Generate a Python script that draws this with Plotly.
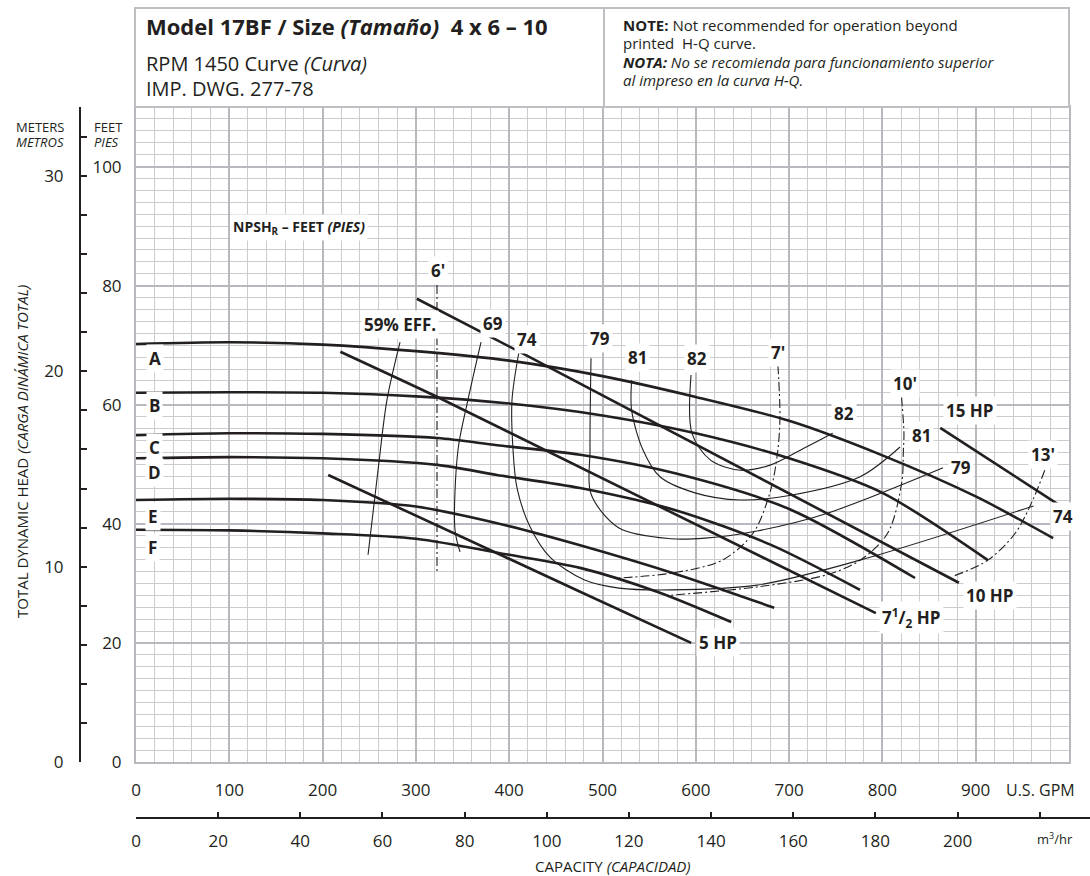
import plotly.graph_objects as go

# ---------------- data (GPM, feet) ----------------
GPM_TICKS = [0, 100, 200, 300, 400, 500, 600, 700, 800, 900]
FT_TICKS = [0, 20, 40, 60, 80, 100]
M_TICKS = [0, 10, 20, 30]
M3H_TICKS = [0, 20, 40, 60, 80, 100, 120, 140, 160, 180, 200, 220]
M3H_LABELS = ["0", "20", "40", "60", "80", "100", "120", "140", "160", "180", "200", ""]

# impeller head-capacity curves
A_Q = [0, 100, 200, 300, 400, 500, 600, 700, 800, 900, 983]
A_H = [70.2, 70.5, 70.1, 69.0, 67.4, 64.8, 61.3, 57.3, 51.5, 44.6, 37.6]
B_Q = [0, 100, 200, 300, 400, 500, 600, 700, 800, 913]
B_H = [62.0, 62.1, 62.0, 61.4, 60.2, 58.2, 55.2, 51.0, 45.2, 33.9]
C_Q = [0, 100, 200, 323, 387, 476, 580, 700, 835]
C_H = [54.9, 55.2, 55.1, 54.4, 53.2, 51.6, 48.4, 42.5, 30.9]
D_Q = [0, 100, 200, 323, 387, 476, 580, 680, 776]
D_H = [51.0, 51.2, 51.0, 49.9, 48.2, 46.0, 42.2, 36.5, 28.9]
E_Q = [0, 100, 200, 300, 387, 476, 580, 684]
E_H = [44.0, 44.2, 44.0, 42.9, 40.1, 36.4, 31.5, 25.9]
F_Q = [0, 100, 200, 300, 400, 476, 560, 638]
F_H = [39.0, 38.9, 38.4, 37.5, 34.8, 32.6, 28.5, 23.5]

# horsepower lines
HP5_Q = [206, 476, 595]
HP5_H = [48.2, 28.6, 20.0]
HP7_Q = [219, 323, 793]
HP7_H = [68.9, 61.3, 25.0]
HP10_Q = [301, 422, 882]
HP10_H = [77.8, 68.0, 30.1]
HP15_Q = [862, 995]
HP15_H = [56.1, 42.6]

# efficiency curves
E59_Q = [283, 269, 259.4, 248.7]
E59_H = [70.5, 60.8, 49.0, 34.8]
E69_Q = [369.8, 355.8, 345.1, 341.9, 347.3]
E69_H = [70.5, 60.8, 52.4, 39.0, 35.3]
E74_Q = [410.5, 403, 404.1, 408.4, 422.3, 443.7, 480.2, 517.7, 573.4, 665.6, 776, 962]
E74_H = [68.9, 60.8, 52.4, 46.0, 39.5, 34.4, 30.6, 29.2, 28.9, 29.7, 33.9, 43.0]
E79_Q = [487.7, 486.6, 487.7, 517.7, 573.4, 609.9, 665.6, 739.5, 865]
E79_H = [67.8, 52.4, 45.0, 39.3, 37.5, 37.6, 38.8, 41.7, 49.4]
E81_Q = [531.2, 531.2, 543.4, 561.6, 599.1, 647.4, 702, 776, 818.9]
E81_H = [64.1, 59.1, 52.4, 47.9, 45.2, 44.0, 44.8, 47.9, 52.9]
E82_Q = [594.9, 595.9, 615.8, 648, 680.3, 712.5, 746.7]
E82_H = [65.0, 55.2, 50.7, 49.0, 49.9, 52.4, 55.2]

# NPSH required lines
N6_Q = [322.6, 322.6]
N6_H = [80.1, 32.0]
N7_Q = [688, 690.2, 687.6, 680.3, 661.7, 628.5, 573.1, 517.7]
N7_H = [66.7, 57.9, 51.9, 45.7, 38.5, 33.9, 31.7, 30.9]
N10_Q = [820.5, 823.1, 822.5, 820.7, 805.9, 776.3, 739.4, 665.5, 573.1]
N10_H = [61.3, 55.2, 52.4, 46.9, 38.5, 33.9, 31.4, 29.4, 28.0]
N13_Q = [974, 961.2, 942.7, 913.1, 874.3]
N13_H = [49.0, 44.0, 38.5, 33.9, 31.1]

FT_PER_M = 3.28084
GPM_PER_M3H = 4.402868

# ---------------- layout geometry ----------------
W, H = 1090, 876
ML, MR, MT, MB = 20, 0, 107, 16
PW, PH = W - ML - MR, H - MT - MB
PLOT_L, PLOT_R, PLOT_B = 136, 1069, 762


def px_x(px):
    return (px - ML) / PW


def px_y(py):
    return (H - MB - py) / PH


INK = "#231f20"
FONT = "Open Sans"

fig = go.Figure()

thick = dict(color=INK, width=2.6)
thin = dict(color=INK, width=1.1)
npsh = dict(color=INK, width=1.1, dash="9px,3px,2px,3px")

for q, h in [(A_Q, A_H), (B_Q, B_H), (C_Q, C_H), (D_Q, D_H), (E_Q, E_H), (F_Q, F_H)]:
    fig.add_trace(go.Scatter(x=q, y=h, mode="lines", line=dict(**thick, shape="spline", smoothing=0.8),
                             hoverinfo="skip", showlegend=False))
for q, h in [(HP5_Q, HP5_H), (HP7_Q, HP7_H), (HP10_Q, HP10_H), (HP15_Q, HP15_H)]:
    fig.add_trace(go.Scatter(x=q, y=h, mode="lines", line=dict(**thick, shape="spline", smoothing=0.5),
                             hoverinfo="skip", showlegend=False))
for q, h in [(E59_Q, E59_H), (E69_Q, E69_H), (E74_Q, E74_H), (E79_Q, E79_H), (E81_Q, E81_H), (E82_Q, E82_H)]:
    fig.add_trace(go.Scatter(x=q, y=h, mode="lines", line=dict(**thin, shape="spline", smoothing=0.9),
                             hoverinfo="skip", showlegend=False))
for q, h in [(N6_Q, N6_H), (N7_Q, N7_H), (N10_Q, N10_H), (N13_Q, N13_H)]:
    fig.add_trace(go.Scatter(x=q, y=h, mode="lines", line=dict(**npsh, shape="spline", smoothing=0.9),
                             hoverinfo="skip", showlegend=False))

# dummy trace so the secondary (metric) axes are drawn
fig.add_trace(go.Scatter(x=[0], y=[0], xaxis="x2", yaxis="y2", mode="markers",
                         marker=dict(opacity=0), hoverinfo="skip", showlegend=False))

GRID_MINOR = "rgb(204,204,208)"
GRID_MAJOR = "rgb(184,184,190)"

fig.update_layout(
    width=W, height=H,
    margin=dict(l=ML, r=MR, t=MT, b=MB),
    paper_bgcolor="white", plot_bgcolor="white",
    font=dict(family=FONT, color=INK, size=17),
    showlegend=False,
    xaxis=dict(
        domain=[px_x(PLOT_L), px_x(PLOT_R)], range=[0, 1000],
        tickmode="array", tickvals=GPM_TICKS, ticks="", ticklabelstandoff=12,
        tickfont=dict(size=17, color=INK),
        showgrid=True, gridcolor=GRID_MAJOR, gridwidth=2,
        minor=dict(dtick=20, tick0=0, showgrid=True, gridcolor=GRID_MINOR, gridwidth=1),
        showline=True, mirror=True, linecolor=GRID_MAJOR, linewidth=2,
        zeroline=False, fixedrange=True,
    ),
    yaxis=dict(
        domain=[px_y(PLOT_B), 1], range=[0, 110],
        tickmode="array", tickvals=FT_TICKS, ticks="", ticklabelstandoff=9,
        tickfont=dict(size=17, color=INK),
        showgrid=True, gridcolor=GRID_MAJOR, gridwidth=2,
        minor=dict(dtick=2, tick0=0, showgrid=True, gridcolor=GRID_MINOR, gridwidth=1),
        showline=True, mirror=True, linecolor=GRID_MAJOR, linewidth=2,
        zeroline=False, fixedrange=True,
    ),
    xaxis2=dict(
        overlaying="x", anchor="free", position=px_y(818), side="bottom",
        range=[0, 1000 / GPM_PER_M3H],
        tickmode="array", tickvals=M3H_TICKS, ticktext=M3H_LABELS,
        ticks="inside", ticklen=5, tickwidth=2, tickcolor=INK,
        ticklabelstandoff=8, tickfont=dict(size=17, color=INK),
        showline=True, linecolor=INK, linewidth=2,
        showgrid=False, zeroline=False, fixedrange=True,
    ),
    yaxis2=dict(
        overlaying="y", anchor="free", position=px_x(80), side="left",
        range=[0, 110 / FT_PER_M],
        tickmode="array", tickvals=M_TICKS,
        ticks="inside", ticklen=6, tickwidth=2, tickcolor=INK,
        minor=dict(dtick=2, tick0=0, ticks="inside", ticklen=6, tickwidth=2, tickcolor=INK),
        ticklabelstandoff=12, tickfont=dict(size=17, color=INK),
        showline=True, linecolor=INK, linewidth=2,
        showgrid=False, zeroline=False, fixedrange=True,
    ),
)

# extension of metric capacity axis line to the right edge
fig.add_shape(type="line", xref="paper", yref="paper", x0=px_x(PLOT_R), x1=1.0,
              y0=px_y(818), y1=px_y(818), line=dict(color=INK, width=2))

# title boxes
BOX = "rgb(190,190,195)"
fig.add_shape(type="rect", xref="paper", yref="paper", x0=px_x(135), x1=px_x(604),
              y0=px_y(107), y1=px_y(8), line=dict(color=BOX, width=2), fillcolor="white")
fig.add_shape(type="rect", xref="paper", yref="paper", x0=px_x(604), x1=px_x(1069),
              y0=px_y(107), y1=px_y(8), line=dict(color=BOX, width=2), fillcolor="white")


def ptext(text, x, y, size, xanchor="left", yanchor="middle", **kw):
    fig.add_annotation(text=text, xref="paper", yref="paper", x=px_x(x), y=px_y(y),
                       xanchor=xanchor, yanchor=yanchor, showarrow=False,
                       font=dict(family=FONT, size=size, color=INK), **kw)


ptext("<b>Model 17BF / Size <i>(Tamaño)</i>  4 x 6 – 10</b>", 144, 26, 22)
ptext("RPM 1450 Curve <i>(Curva)</i>", 144, 63, 20)
ptext("IMP. DWG. 277-78", 144, 88, 20)

ptext("<b>NOTE:</b> Not recommended for operation beyond", 621, 25, 15)
ptext("printed  H-Q curve.", 621, 43, 15)
ptext("<b><i>NOTA:</i></b><i> No se recomienda para funcionamiento superior</i>", 621, 62, 15)
ptext("<i>al impreso en la curva H-Q.</i>", 621, 80, 15)

ptext("METERS", 66, 127, 13, xanchor="right")
ptext("<i>METROS</i>", 66, 142, 13, xanchor="right")
ptext("FEET", 92, 127, 13)
ptext("<i>PIES</i>", 92, 142, 13)

ptext("TOTAL DYNAMIC HEAD <i>(CARGA DINÁMICA TOTAL)</i>", 22, 452, 15,
      xanchor="center", textangle=-90)
ptext("CAPACITY <i>(CAPACIDAD)</i>", 613, 866, 15, xanchor="center")
ptext("U.S. GPM", 1040, 790, 16, xanchor="center")
ptext("m<sup>3</sup>/hr", 1055, 838, 13, xanchor="center")

# curve labels (data coordinates)
LABELS = [
    ("A", 20, 67.8), ("B", 20, 59.9), ("C", 20, 52.8), ("D", 20, 48.6),
    ("E", 18, 41.3), ("F", 18, 36.1),
    ("59% EFF.", 283, 73.4), ("69", 382.6, 73.7), ("74", 419, 70.9), ("79", 497.3, 71.2),
    ("81", 537, 68.0), ("82", 601.3, 67.8), ("7'", 688, 68.8), ("6'", 323.7, 82.6),
    ("10'", 824.2, 63.6), ("15 HP", 893.9, 59.1), ("82", 758.8, 58.6), ("81", 841.4, 54.9),
    ("79", 884.4, 49.5), ("13'", 972, 51.6), ("74", 994, 41.3),
    ("10 HP", 915.3, 28.0), ("7<sup>1</sup>/<sub>2</sub> HP", 831.7, 24.3), ("5 HP", 623.8, 20.0),
]
for text, q, h in LABELS:
    fig.add_annotation(text="<b>" + text + "</b>", x=q, y=h, xref="x", yref="y", showarrow=False,
                       font=dict(family=FONT, size=17, color=INK), bgcolor="white", borderpad=2)

fig.add_annotation(text="<b>NPSH<sub>R</sub> – FEET <i>(PIES)</i></b>", x=174.7, y=89.8,
                   xref="x", yref="y", showarrow=False,
                   font=dict(family=FONT, size=14, color=INK), bgcolor="white", borderpad=2)

fig.write_html("out.html", config={"displayModeBar": False},
               post_script="document.body.style.margin='0px';document.body.style.overflow='hidden';")
